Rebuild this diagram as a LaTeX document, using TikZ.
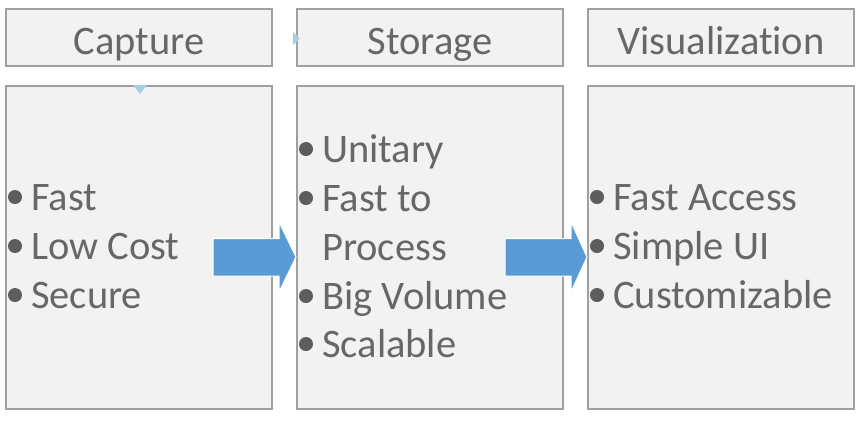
\documentclass[tikz,border=0pt]{standalone}
\usepackage{fontspec}
\setmainfont{Carlito}[RawFeature={-liga}]
\usetikzlibrary{calc}
\definecolor{boxfill}{HTML}{F2F2F2}
\definecolor{boxline}{HTML}{A0A0A0}
\definecolor{txt}{HTML}{676767}
\definecolor{arrowblue}{HTML}{5B9BD5}
\definecolor{tri}{HTML}{A6CEE3}
\begin{document}
\begin{tikzpicture}[x=1bp,y=-1bp,
  box/.style={draw=boxline, line width=2bp, fill=boxfill, minimum width=266bp, inner sep=0pt},
  head/.style={box, minimum height=57bp, text height=45bp, text depth=12bp, text=txt, font=\fontsize{40.5bp}{48bp}\selectfont},
  body/.style={box, minimum height=323bp},
  item/.style={anchor=base west, inner sep=0pt, text=txt, font=\fontsize{40.5bp}{48bp}\selectfont},
  dot/.style={fill=txt!90!black},
  blockarrow/.style={fill=arrowblue, draw=white, line width=1bp}]
\useasboundingbox (0,0) rectangle (865,420);
% headers
\node[head] (h1) at (139,37.5) {Capture};
\node[head] (h2) at (430,37.5) {Storage};
\node[head] (h3) at (721,37.5) {Visualization};
% bodies
\node[body] (b1) at (139,247) {};
\node[body] (b2) at (430,247) {};
\node[body] (b3) at (721,247) {};
% small leftover triangles
\fill[tri] (133,85) -- (147,85) -- (140,94) -- cycle;
\fill[tri] (293,32) -- (300,38.5) -- (293,45) -- cycle;
% capture items
\node[item] (c1) at (31,210) {Fast};
\node[item] (c2) at (31,259) {Low Cost};
\node[item] (c3) at (31,308) {Secure};
\foreach \y in {197,246,295} \fill[dot] (15,\y) circle (7);
% storage items
\node[item] (s1) at (322,162) {Unitary};
\node[item] (s2) at (322,211) {Fast to};
\node[item] (s3) at (322,260) {Process};
\node[item] (s4) at (322,309) {Big Volume};
\node[item] (s5) at (322,357) {Scalable};
\foreach \y in {149,198,296,344} \fill[dot] (306,\y) circle (7);
% visualization items
\node[item] (v1) at (613,210) {Fast Access};
\node[item] (v2) at (613,259) {Simple UI};
\node[item] (v3) at (613,308) {Customizable};
\foreach \y in {197,246,295} \fill[dot] (597,\y) circle (7);
% block arrows
\draw[blockarrow] (213,238.5) -- (279,238.5) -- (279,222) -- (b2.west |- 0,257) -- (279,292) -- (279,276) -- (213,276) -- cycle;
\draw[blockarrow] (505,238.5) -- (571,238.5) -- (571,222) -- (b3.west |- 0,257) -- (571,292) -- (571,276) -- (505,276) -- cycle;
\end{tikzpicture}
\end{document}
